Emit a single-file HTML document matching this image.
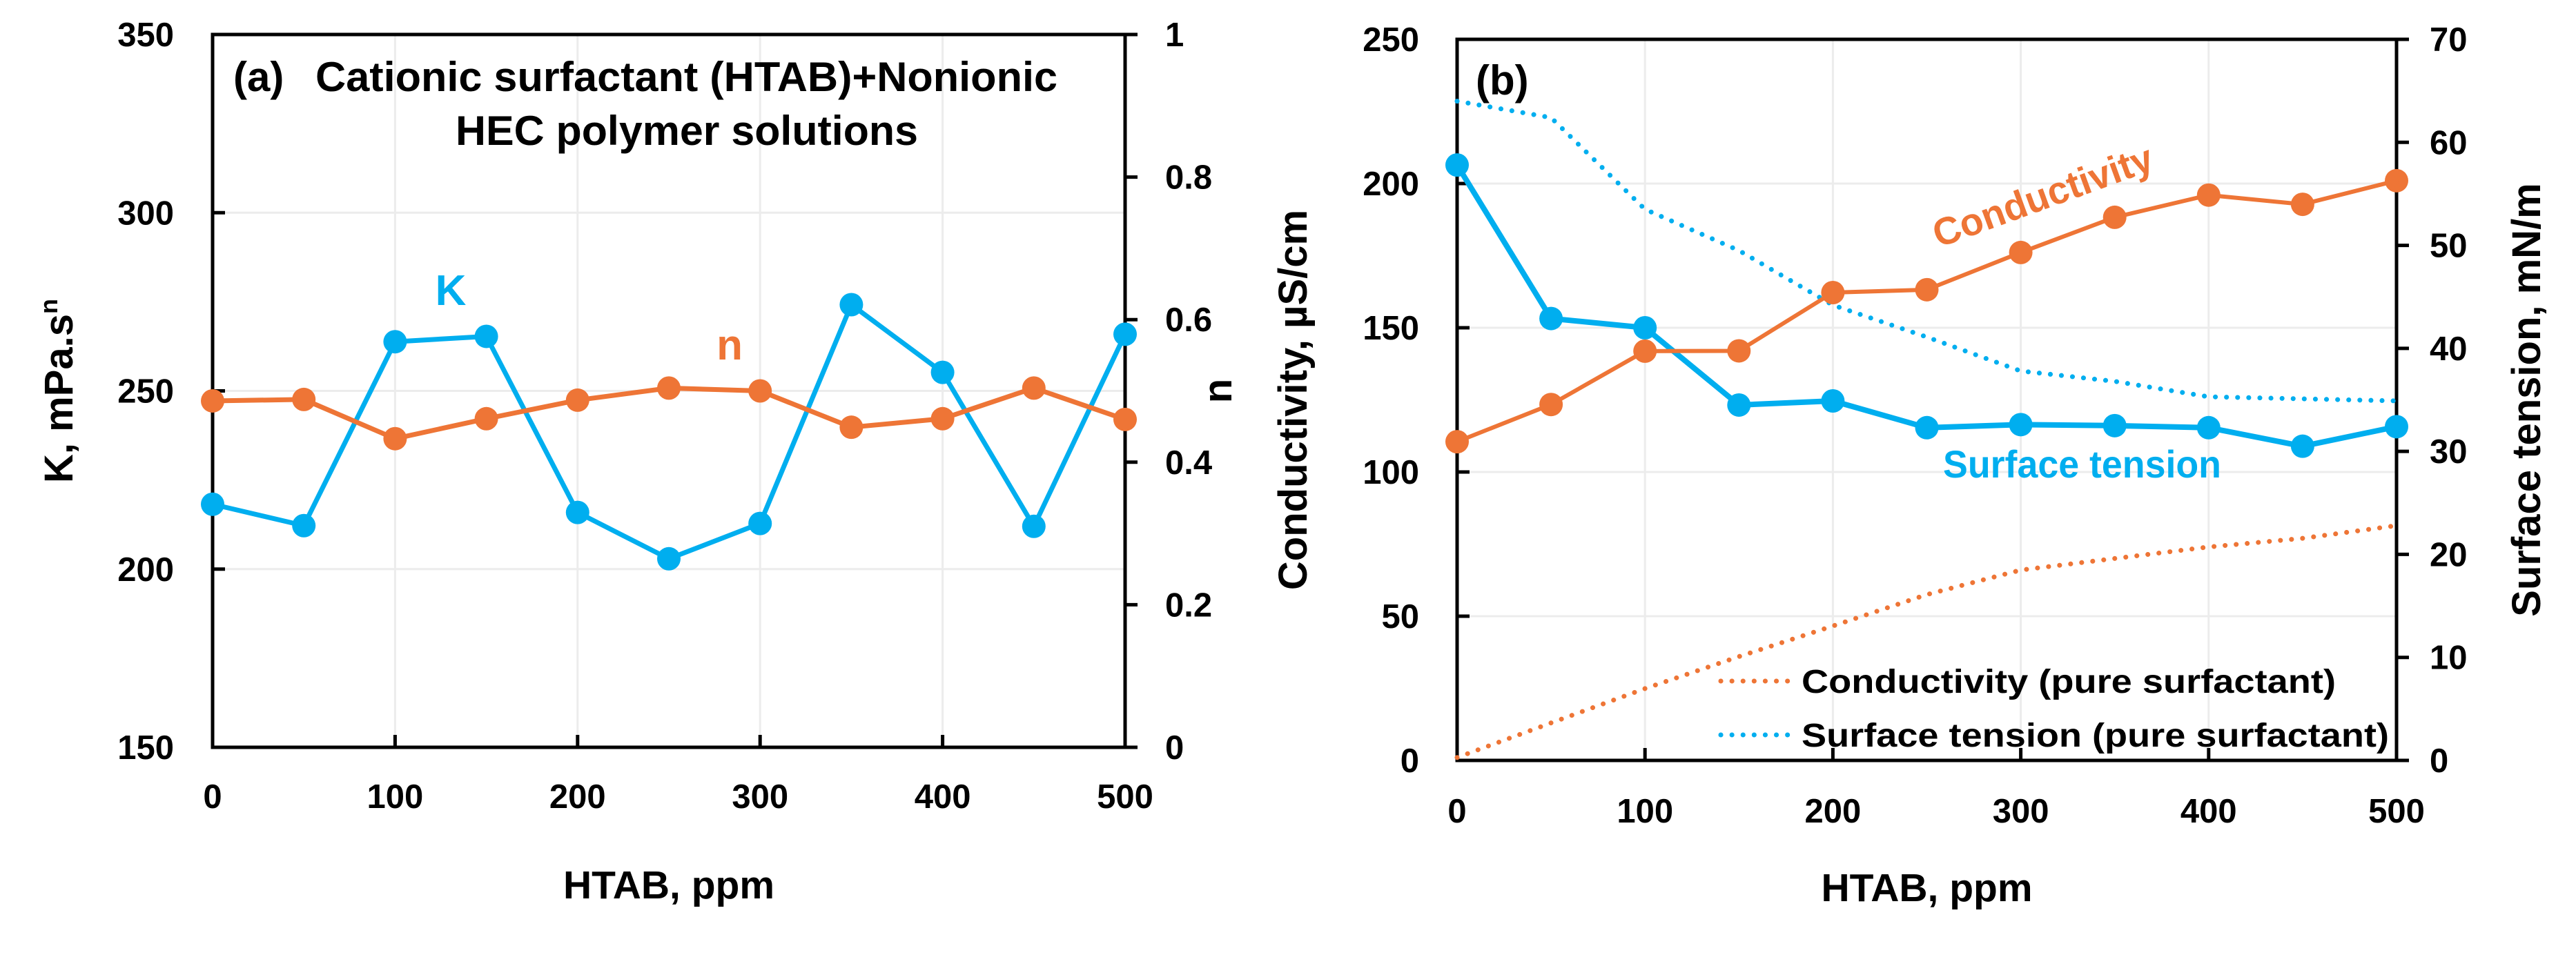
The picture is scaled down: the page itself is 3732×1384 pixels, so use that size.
<!DOCTYPE html>
<html><head><meta charset="utf-8"><style>
html,body{margin:0;padding:0;background:#fff}
svg{display:block;font-family:"Liberation Sans",sans-serif;font-weight:bold}
</style></head><body>
<svg id="c" width="3732" height="1384" viewBox="0 0 3732 1384" xmlns="http://www.w3.org/2000/svg"></svg>
<script>
const htab = [0,50,100,150,200,250,300,350,400,450,500];
const kValues = [218.2,212.2,263.8,265.3,215.9,202.9,212.8,274.2,255.2,212.0,265.9];
const nValues = [0.486,0.488,0.433,0.461,0.487,0.504,0.500,0.449,0.461,0.504,0.460];
const condValues = [110.5,123.4,141.9,142,162.2,163.2,176.1,188.3,196.0,192.8,201];
const stValues = [57.8,42.9,42.0,34.5,34.9,32.3,32.6,32.5,32.3,30.5,32.4];
const pureCondValues = [1,13,24.9,36,46.6,57.5,66,70,74,77,81.4];
const pureStValues = [64.0,62.4,53.5,49.5,44.2,41.1,37.8,36.8,35.3,35.1,34.9];
const xTicks = [0,100,200,300,400,500];
const kTicks = [150,200,250,300,350];
const nTicks = [0,0.2,0.4,0.6,0.8,1];
const condTicks = [0,50,100,150,200,250];
const stTicks = [0,10,20,30,40,50,60,70];

const NS="http://www.w3.org/2000/svg";
const svg=document.getElementById('c');
function el(tag,attrs,parent){const e=document.createElementNS(NS,tag);for(const k in attrs)e.setAttribute(k,attrs[k]);(parent||svg).appendChild(e);return e;}
const OR="#EE7536", CY="#00AEEF";
function lin(d0,d1,r0,r1){return v=>r0+(v-d0)/(d1-d0)*(r1-r0);}

function panel(p){
  const g=el('g',{});
  
  
  const X=lin(0,500,p.x0,p.x1), YL=lin(p.l0,p.l1,p.yb,p.yt), YR=lin(p.r0,p.r1,p.yb,p.yt);
  xTicks.forEach(t=>{ if(t>0&&t<500){const l=el('line',{x1:X(t),x2:X(t),y1:p.yt,y2:p.yb,stroke:'#ececec','stroke-width':3},g);
    }});
  p.lt.forEach(t=>{const y=YL(t); if(y>p.yt+2&&y<p.yb-2){const l=el('line',{x1:p.x0,x2:p.x1,y1:y,y2:y,stroke:'#ececec','stroke-width':3},g);
    }});
  const fr=el('rect',{x:p.x0,y:p.yt,width:p.x1-p.x0,height:p.yb-p.yt,fill:'none',stroke:'#000','stroke-width':5},g);
  
  xTicks.forEach(t=>{el('line',{x1:X(t),x2:X(t),y1:p.yb,y2:p.yb-18,stroke:'#000','stroke-width':5},g);
    const tx=el('text',{x:X(t),y:p.xlab+17,'font-size':49,'text-anchor':'middle'},g);tx.textContent=t;
    });
  p.lt.forEach(t=>{const y=YL(t);el('line',{x1:p.x0,x2:p.x0+18,y1:y,y2:y,stroke:'#000','stroke-width':5},g);
    const tx=el('text',{x:p.llx,y:y+17,'font-size':49,'text-anchor':'end'},g);tx.textContent=t;
    });
  p.rt.forEach(t=>{const y=YR(t);el('line',{x1:p.x1,x2:p.x1+18,y1:y,y2:y,stroke:'#000','stroke-width':5},g);
    const tx=el('text',{x:p.rlx,y:y+17,'font-size':49,'text-anchor':'start'},g);tx.textContent=t;
    });
  let t=el('text',{x:(p.x0+p.x1)/2,y:p.xtitle+20,'font-size':57,'text-anchor':'middle'},g);t.textContent='HTAB, ppm';
  
  t=el('text',{x:0,y:0,'font-size':58,'text-anchor':'middle',transform:`translate(${p.ltx},${(p.yt+p.yb)/2}) rotate(-90)`},g);
  t.innerHTML=p.ltitle;
  t=el('text',{x:0,y:0,'font-size':58,'text-anchor':'middle',transform:`translate(${p.rtx},${(p.yt+p.yb)/2}) rotate(-90)`},g);
  t.textContent=p.rtitle;
  return {g,X,YL,YR};
}
function series(g,X,Y,vals,color,name,dotted,w){
  const pts=htab.map((h,i)=>X(h)+','+Y(vals[i])).join(' ');
  const pl=el('polyline',{points:pts,fill:'none',stroke:color,'stroke-width':dotted?7:(w||7),'stroke-dasharray':dotted?'0.1 16':'none','stroke-linecap':dotted?'round':'butt','stroke-linejoin':'round'},g);
  
  if(!dotted) htab.forEach((h,i)=>{const c=el('circle',{cx:X(h),cy:Y(vals[i]),r:17,fill:color},g);
    });
}
const A=panel({name:'panel-a',x0:308,x1:1630,yt:50,yb:1083,l0:150,l1:350,r0:0,r1:1,lt:kTicks,rt:nTicks,
  llx:252,rlx:1688,xlab:1154,xtitle:1282,ltx:105,rtx:1784,ltitle:'K, mPa.s<tspan dy="-22" font-size="36">n</tspan>',rtitle:'n'});
series(A.g,A.X,A.YL,kValues,CY,'k-series');
series(A.g,A.X,A.YR,nValues,OR,'n-series');
let t=el('text',{x:338,y:132,'font-size':60},A.g);t.textContent='(a)';

t=el('text',{x:457,y:132,'font-size':60,textLength:1075,lengthAdjust:'spacingAndGlyphs'},A.g);t.textContent='Cationic surfactant (HTAB)+Nonionic';

t=el('text',{x:660,y:210,'font-size':60,textLength:670,lengthAdjust:'spacingAndGlyphs'},A.g);t.textContent='HEC polymer solutions';

t=el('text',{x:653,y:442,'font-size':62,fill:CY,'text-anchor':'middle'},A.g);t.textContent='K';

t=el('text',{x:1057,y:521,'font-size':62,fill:OR,'text-anchor':'middle'},A.g);t.textContent='n';

const B=panel({name:'panel-b',x0:2111,x1:3472,yt:57,yb:1102,l0:0,l1:250,r0:0,r1:70,lt:condTicks,rt:stTicks,
  llx:2056,rlx:3520,xlab:1175,xtitle:1286,ltx:1893,rtx:3680,ltitle:'Conductivity, µS/cm',rtitle:'Surface tension, mN/m'});
series(B.g,B.X,B.YL,pureCondValues,OR,'pure-conductivity',true);
series(B.g,B.X,B.YR,pureStValues,CY,'pure-surface-tension',true);
series(B.g,B.X,B.YR,stValues,CY,'surface-tension',false,8);
series(B.g,B.X,B.YL,condValues,OR,'conductivity',false,6);
t=el('text',{x:2138,y:137,'font-size':60},B.g);t.textContent='(b)';

t=el('text',{x:0,y:0,'font-size':56,fill:OR,'text-anchor':'middle',textLength:335,lengthAdjust:'spacingAndGlyphs',transform:'translate(2966,302) rotate(-20)'},B.g);t.textContent='Conductivity';

t=el('text',{x:2815,y:692,'font-size':56,fill:CY,textLength:403,lengthAdjust:'spacingAndGlyphs'},B.g);t.textContent='Surface tension';

const lg=el('g',{},B.g);
[[OR,'Conductivity (pure surfactant)',987,774],[CY,'Surface tension (pure surfactant)',1065,851]].forEach(([c,s,y,w])=>{
  const e=el('g',{},lg);
  el('line',{x1:2493,x2:2592,y1:y,y2:y,stroke:c,'stroke-width':7,'stroke-dasharray':'0.1 16','stroke-linecap':'round'},e);
  const tx=el('text',{x:2610,y:y+17,'font-size':48,textLength:w,lengthAdjust:'spacingAndGlyphs'},e);tx.textContent=s;
});
</script>
</body></html>
